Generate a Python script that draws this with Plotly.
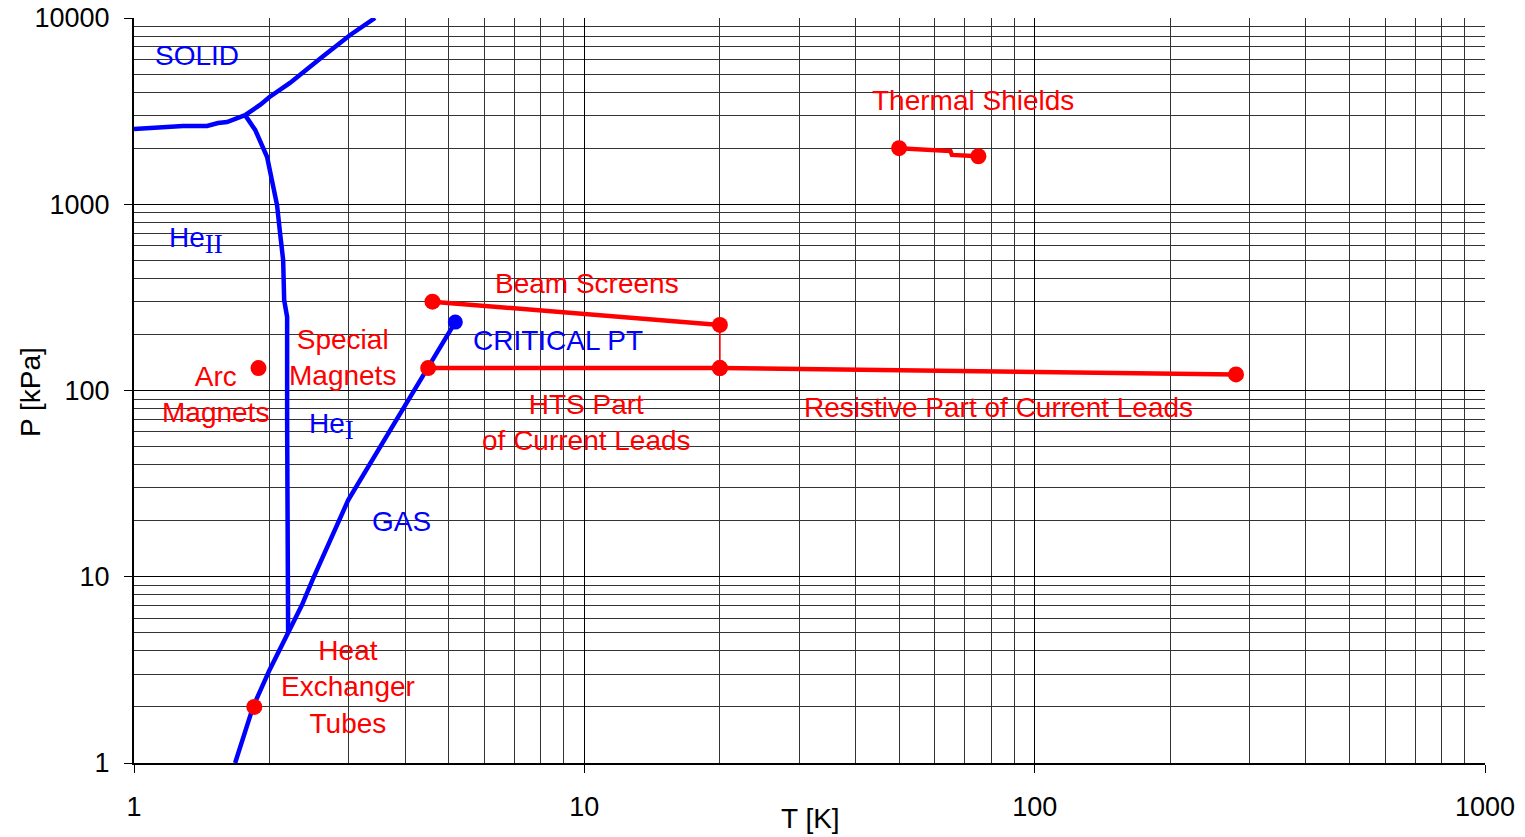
import numpy as np
import plotly.graph_objects as go

# --- Helium phase boundaries (T in K, P in kPa) ---
melt_T = [1.765, 1.905, 2.0, 2.22, 2.617, 3.02, 3.43]
melt_P = [3010, 3415, 3766, 4480, 6180, 8107, 10000]

solid_he2_T = [1.0, 1.085, 1.285, 1.453, 1.537, 1.609, 1.765]
solid_he2_P = [2535, 2566, 2631, 2631, 2731, 2765, 3010]

lambda_T = [1.765, 1.858, 1.975, 2.026, 2.078, 2.11, 2.144, 2.155, 2.188, 2.188, 2.199]
lambda_P = [3010, 2507, 1794, 1350, 991, 702, 501, 306, 248, 69.5, 5.0]

vapor_T = [1.677, 1.838, 2.0, 2.199, 2.36, 2.49, 2.99, 3.71, 4.48, 5.17]
vapor_P = [1.0, 2.0, 3.16, 5.0, 7.05, 9.6, 25.8, 61.4, 132, 233]

critical_T = [5.17]
critical_P = [233]

# --- Operating points of cryogenic components ---
hx_T, hx_P = [1.85], [2.0]
arc_T, arc_P = [1.89], [132]
hts_T, hts_P = [4.5, 20], [132, 132]
resist_T, resist_P = [20, 280], [132, 122]
beam_T, beam_P = [4.6, 20], [300, 225]
link_T, link_P = [20, 20], [225, 132]
shield_T = [50, 65, 65.5, 75]
shield_P = [2000, 1930, 1840, 1810]
shield_end_T = [50, 75]
shield_end_P = [2000, 1810]

SUB = "<sub><span style='font-family:Liberation Serif, Times New Roman, serif;font-size:27px'>{}</span></sub>"

# --- Text labels: (text, T, P, colour) ---
labels = [
    ("SOLID", 1.381, 6326, "blue"),
    ("He" + SUB.format("II"), 1.37, 640, "blue"),
    ("He" + SUB.format("I"), 2.75, 63.7, "blue"),
    ("GAS", 3.92, 19.9, "blue"),
    ("CRITICAL PT", 8.75, 186.6, "blue"),
    ("Beam Screens", 10.15, 377, "red"),
    ("Thermal Shields", 72.8, 3585, "red"),
    ("Special<br>Magnets", 2.90, 149.5, "red"),
    ("Arc<br>Magnets", 1.52, 95.7, "red"),
    ("HTS Part<br>of Current Leads", 10.09, 67.7, "red"),
    ("Resistive Part of Current Leads", 83.2, 81.5, "red"),
    ("Heat<br>Exchanger<br>Tubes", 2.99, 2.56, "red"),
]

BLUE = "#0000FF"
RED = "#FF0000"
FONT = "Liberation Sans, Arial, sans-serif"

fig = go.Figure()

def line(x, y, color, width=4.5, mode="lines", msize=16):
    fig.add_trace(go.Scatter(x=x, y=y, mode=mode, showlegend=False, hoverinfo="skip",
                             line=dict(color=color, width=width),
                             marker=dict(color=color, size=msize)))

line(melt_T, melt_P, BLUE)
line(solid_he2_T, solid_he2_P, BLUE)
line(lambda_T, lambda_P, BLUE)
line(vapor_T, vapor_P, BLUE)
line(critical_T, critical_P, BLUE, mode="markers", msize=15)

line(link_T, link_P, RED, width=1.5)
line(hts_T, hts_P, RED, mode="lines+markers")
line(resist_T, resist_P, RED, mode="lines+markers")
line(beam_T, beam_P, RED, mode="lines+markers")
line(shield_T, shield_P, RED)
line(shield_end_T, shield_end_P, RED, mode="markers")
line(arc_T, arc_P, RED, mode="markers")
line(hx_T, hx_P, RED, mode="markers")

for text, t, p, c in labels:
    fig.add_annotation(x=np.log10(t), y=np.log10(p), text=text, showarrow=False,
                       font=dict(family=FONT, size=28, color=BLUE if c == "blue" else RED),
                       xanchor="center", yanchor="middle")

axis_common = dict(
    type="log", showgrid=True, gridcolor="#000000", gridwidth=1,
    minor=dict(dtick="D1", showgrid=True, gridcolor="#333333", gridwidth=1, ticks=""),
    ticks="outside", ticklen=8, tickcolor="#000000", tickwidth=1,
    showline=True, linecolor="#000000", linewidth=2,
    tickfont=dict(family=FONT, size=27, color="#000000"),
    zeroline=False, automargin=False,
)

fig.update_layout(
    width=1525, height=837,
    margin=dict(l=134, r=40, t=18, b=74),
    paper_bgcolor="white", plot_bgcolor="white",
    xaxis=dict(axis_common, range=[0, 3], tickvals=[1, 10, 100, 1000],
               ticktext=["1", "10", "100", "1000"], ticklabelstandoff=11),
    yaxis=dict(axis_common, range=[0, 4], tickvals=[1, 10, 100, 1000, 10000],
               ticktext=["1", "10", "100", "1000", "10000"], ticklabelstandoff=9),
)

fig.add_annotation(xref="paper", yref="paper", x=(810 - 134) / 1351, y=-(818 - 763) / 745,
                   text="T [K]", showarrow=False, xanchor="center", yanchor="middle",
                   font=dict(family=FONT, size=28, color="#000000"))
fig.add_annotation(xref="paper", yref="paper", x=-(134 - 30) / 1351, y=(763 - 392) / 745,
                   text="P [kPa]", showarrow=False, textangle=-90, xanchor="center", yanchor="middle",
                   font=dict(family=FONT, size=28, color="#000000"))

fig.write_html(
    "out.html",
    config={"displayModeBar": False},
    post_script="document.body.style.margin='0px';document.body.style.overflow='hidden';",
)
